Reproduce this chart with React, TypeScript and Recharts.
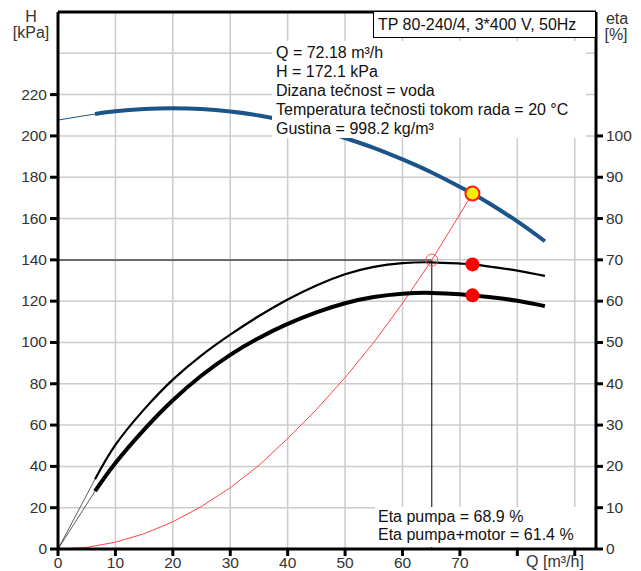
import { ComposedChart, Line, Scatter, XAxis, YAxis, CartesianGrid, ReferenceLine } from 'recharts';

const FONT = '"Liberation Sans", Arial, sans-serif';

// pump head curve H(Q), Q in m³/h, H in kPa
const headStartQ = [0, 6.45];
const headStartKpa = [207.7, 210.6];
const headQ = [6.45, 10, 15, 20, 25, 30, 35, 40, 45, 50, 55, 60, 65, 70, 72.18, 75, 80, 84.8];
const headKpa = [210.6, 211.9, 213.0, 213.4, 213.0, 211.8, 209.9, 207.1, 203.4, 199.0, 194.2, 188.6, 182.4, 175.3, 172.1, 167.5, 158.6, 149.0];

// efficiency curves, %
const etaStartQ = [0, 6.45];
const etaPumpStart = [0, 16.9];
const etaTotalStart = [0, 14.0];
const etaQ = [6.45, 10, 15, 20, 25, 30, 35, 40, 45, 50, 55, 60, 65, 70, 72.18, 75, 80, 84.8];
const etaPump = [16.9, 25.2, 33.8, 41.0, 46.9, 51.9, 56.4, 60.4, 63.8, 66.5, 68.3, 69.2, 69.4, 69.1, 68.9, 68.4, 67.4, 66.1];
const etaTotal = [14.0, 20.8, 28.9, 36.0, 42.0, 47.0, 51.1, 54.5, 57.3, 59.5, 61.0, 61.8, 62.0, 61.7, 61.4, 61.0, 60.1, 58.8];

// system curve
const systemQ = [0, 5, 10, 15, 20, 25, 30, 35, 40, 45, 50, 55, 60, 65.1, 72.18];
const systemKpa = [0, 0.8, 3.3, 7.4, 13.2, 20.6, 29.7, 40.5, 53.5, 67.5, 83.0, 100.0, 119.0, 139.9, 172.1];

// duty point and crossing
const dutyQ = 72.18;
const dutyH = 172.1;
const dutyEtaPump = 68.9;
const dutyEtaTotal = 61.4;
const crossQ = 65.1;
const crossH = 139.9;

const xTicks = [0, 10, 20, 30, 40, 50, 60, 70, 80, 90];
const hTicks = [0, 20, 40, 60, 80, 100, 120, 140, 160, 180, 200, 220, 240];
const etaTicks = [0, 10, 20, 30, 40, 50, 60, 70, 80, 90, 100];

const infoLines = [
  'Q = 72.18 m³/h',
  'H = 172.1 kPa',
  'Dizana tečnost = voda',
  'Temperatura tečnosti tokom rada = 20 °C',
  'Gustina = 998.2 kg/m³',
];
const etaLines = ['Eta pumpa = 68.9 %', 'Eta pumpa+motor = 61.4 %'];

const pairs = (qs: number[], vs: number[], key: string) => qs.map((q, i) => ({ q, [key]: vs[i] }));

const BLUE = '#1a5488';
const TXT = '#333';

const LeftTick = (p: any) => {
  const { x, y, payload } = p;
  if (payload.value > 220) return null;
  return (
    <g>
      <line x1={x - 8} x2={x} y1={y} y2={y} stroke="#000" strokeWidth={3} />
      <text x={x - 11} y={y + 5} textAnchor="end" fontSize={15.5} fill={TXT} fontFamily={FONT}>
        {payload.value}
      </text>
    </g>
  );
};

const RightTick = (p: any) => {
  const { x, y, payload } = p;
  return (
    <g>
      <line x1={x} x2={x + 7} y1={y} y2={y} stroke="#000" strokeWidth={3} />
      <text x={x + 10} y={y + 5} textAnchor="start" fontSize={15.5} fill={TXT} fontFamily={FONT}>
        {payload.value}
      </text>
    </g>
  );
};

const BottomTick = (p: any) => {
  const { x, y, payload } = p;
  return (
    <g>
      <line x1={x} x2={x} y1={y} y2={y + 7} stroke="#000" strokeWidth={3} />
      {payload.value <= 70 && (
        <text x={x} y={y + 19} textAnchor="middle" fontSize={15.5} fill={TXT} fontFamily={FONT}>
          {payload.value}
        </text>
      )}
    </g>
  );
};

export default function App() {
  return (
    <div style={{ position: 'absolute', left: 0, top: 0, width: 641, height: 571, background: '#fff', fontFamily: FONT }}>
      <ComposedChart width={641} height={571} margin={{ top: 12, right: 0, bottom: 0, left: 0 }}>
        <CartesianGrid stroke="#cccccc" strokeWidth={1.5} />
        <XAxis
          type="number"
          dataKey="q"
          domain={[0, 93.7]}
          ticks={xTicks}
          allowDataOverflow
          height={22}
          tickSize={0}
          tickMargin={0}
          tickLine={false}
          axisLine={{ stroke: '#000', strokeWidth: 3 }}
          tick={<BottomTick />}
        />
        <YAxis
          type="number"
          domain={[0, 260]}
          ticks={hTicks}
          width={58}
          tickSize={0}
          tickMargin={0}
          tickLine={false}
          axisLine={{ stroke: '#000', strokeWidth: 3 }}
          tick={<LeftTick />}
        />
        <YAxis
          yAxisId="eta"
          orientation="right"
          type="number"
          domain={[0, 130]}
          ticks={etaTicks}
          width={45}
          tickSize={0}
          tickMargin={0}
          tickLine={false}
          axisLine={{ stroke: '#000', strokeWidth: 3 }}
          tick={<RightTick />}
        />
        <ReferenceLine y={260} stroke="#000" strokeWidth={3} />
        <ReferenceLine segment={[{ x: 0, y: crossH }, { x: crossQ, y: crossH }]} stroke="#000" strokeWidth={1} />
        <ReferenceLine segment={[{ x: crossQ, y: 0 }, { x: crossQ, y: crossH }]} stroke="#000" strokeWidth={1} />

        <Line data={pairs(systemQ, systemKpa, 'h')} dataKey="h" type="linear" stroke="#ff4444" strokeWidth={1} dot={false} activeDot={false} isAnimationActive={false} />

        <Line data={pairs(headStartQ, headStartKpa, 'h')} dataKey="h" type="linear" stroke={BLUE} strokeWidth={1} dot={false} activeDot={false} isAnimationActive={false} />
        <Line data={pairs(headQ, headKpa, 'h')} dataKey="h" type="natural" stroke={BLUE} strokeWidth={4} dot={false} activeDot={false} isAnimationActive={false} />

        <Line yAxisId="eta" data={pairs(etaStartQ, etaPumpStart, 'e')} dataKey="e" type="linear" stroke="#333" strokeWidth={0.8} dot={false} activeDot={false} isAnimationActive={false} />
        <Line yAxisId="eta" data={pairs(etaQ, etaPump, 'e')} dataKey="e" type="natural" stroke="#000" strokeWidth={2.2} dot={false} activeDot={false} isAnimationActive={false} />
        <Line yAxisId="eta" data={pairs(etaStartQ, etaTotalStart, 'e')} dataKey="e" type="linear" stroke="#333" strokeWidth={0.8} dot={false} activeDot={false} isAnimationActive={false} />
        <Line yAxisId="eta" data={pairs(etaQ, etaTotal, 'e')} dataKey="e" type="natural" stroke="#000" strokeWidth={4} dot={false} activeDot={false} isAnimationActive={false} />

        <Scatter
          data={[{ q: crossQ, h: crossH }]}
          dataKey="h"
          isAnimationActive={false}
          shape={(p: any) => <circle cx={p.cx} cy={p.cy} r={6} fill="none" stroke="#ff5555" strokeWidth={1} />}
        />
        <Scatter
          yAxisId="eta"
          data={[{ q: dutyQ, e: dutyEtaPump }, { q: dutyQ, e: dutyEtaTotal }]}
          dataKey="e"
          isAnimationActive={false}
          shape={(p: any) => <circle cx={p.cx} cy={p.cy} r={7} fill="#ff0000" />}
        />
        <Scatter
          data={[{ q: dutyQ, h: dutyH }]}
          dataKey="h"
          isAnimationActive={false}
          shape={(p: any) => <circle cx={p.cx} cy={p.cy} r={7} fill="#ffee00" stroke="#ff1a1a" strokeWidth={2} />}
        />
      </ComposedChart>

      <div style={{ position: 'absolute', left: 0, top: 9, width: 62, textAlign: 'center', fontSize: 16, lineHeight: '16px', color: TXT }}>
        H<br />[kPa]
      </div>
      <div style={{ position: 'absolute', left: 598, top: 11, width: 38, textAlign: 'center', fontSize: 16, lineHeight: '16px', color: TXT }}>
        eta
      </div>
      <div style={{ position: 'absolute', left: 598, top: 27, width: 36, textAlign: 'center', fontSize: 16, lineHeight: '16px', color: TXT }}>
        [%]
      </div>
      <div style={{ position: 'absolute', left: 373, top: 11, width: 223, height: 27, boxSizing: 'border-box', border: '1px solid #000', background: '#fff', fontSize: 16, lineHeight: '25px', paddingLeft: 4, color: '#111', whiteSpace: 'nowrap' }}>
        TP 80-240/4, 3*400 V, 50Hz
      </div>
      <div style={{ position: 'absolute', left: 272, top: 41, width: 314, height: 97, background: '#fff', fontSize: 16, lineHeight: '19px', paddingTop: 2, paddingLeft: 4, boxSizing: 'border-box', color: '#111', whiteSpace: 'nowrap' }}>
        {infoLines.map((t) => (
          <div key={t}>{t}</div>
        ))}
      </div>
      <div style={{ position: 'absolute', left: 375, top: 507, width: 219, height: 40, background: '#fff', fontSize: 16, lineHeight: '18px', paddingTop: 1, paddingLeft: 3, boxSizing: 'border-box', color: '#111', whiteSpace: 'nowrap' }}>
        {etaLines.map((t) => (
          <div key={t}>{t}</div>
        ))}
      </div>
      <div style={{ position: 'absolute', left: 520, top: 553, width: 70, textAlign: 'center', fontSize: 16, lineHeight: '18px', color: TXT, whiteSpace: 'nowrap' }}>
        Q [m³/h]
      </div>
    </div>
  );
}
